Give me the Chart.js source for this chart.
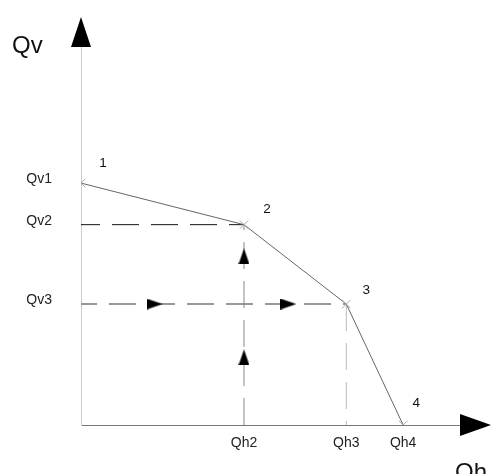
<!DOCTYPE html>
<html>
<head>
<meta charset="utf-8">
<script src="https://cdn.jsdelivr.net/npm/chart.js@4/dist/chart.umd.min.js"></script>
<style>
  html, body { margin: 0; padding: 0; background: #fff; }
  canvas { display: block; }
</style>
</head>
<body>
<canvas id="qchart" width="491" height="474"></canvas>
<script>
// axis tick labels and their positions on the axes
const qhLabels = ['Qh2', 'Qh3', 'Qh4'];
const qhValues = [4.3, 7.0, 8.5];
const qvLabels = ['Qv1', 'Qv2', 'Qv3'];
const qvValues = [6.4, 5.3, 3.2];

// the broken line 1-2-3-4
const pointNames = ['1', '2', '3', '4'];
const curveQh = [0, 4.3, 7.0, 8.5];
const curveQv = [6.4, 5.3, 3.2, 0];

// arrow heads on the dashed guides
const upArrowQh = [4.3, 4.3];
const upArrowQv = [4.46, 1.79];
const rightArrowQh = [1.94, 5.47];
const rightArrowQv = [3.2, 3.2];

const FONT = 'Liberation Sans, Arial, sans-serif';

function arrowHead(w, h) {
  const c = document.createElement('canvas');
  c.width = w;
  c.height = h;
  const ctx = c.getContext('2d');
  ctx.fillStyle = '#000';
  ctx.beginPath();
  ctx.moveTo(w / 2, 0);
  ctx.lineTo(w, h);
  ctx.lineTo(0, h);
  ctx.closePath();
  ctx.fill();
  return c;
}
const headImg = arrowHead(11, 16);

const pts = (xs, ys) => xs.map((x, i) => ({ x, y: ys[i] }));

const dashed = (data, color, width, offset) => ({
  data,
  borderColor: color,
  borderWidth: width,
  borderDash: [27, 12],
  borderDashOffset: offset,
  pointRadius: 0,
  fill: false,
});

// point numbers next to the curve
const labelOffsets = [[22, -20], [23, -15], [20, -14], [13, -22]];

const decorPlugin = {
  id: 'decor',
  afterDatasetsDraw(chart) {
    const { ctx, chartArea } = chart;
    const { left, right, top, bottom } = chartArea;
    ctx.save();
    ctx.fillStyle = '#000';
    // y axis arrow
    ctx.beginPath();
    ctx.moveTo(left, top - 30);
    ctx.lineTo(left + 10, top);
    ctx.lineTo(left - 10, top);
    ctx.closePath();
    ctx.fill();
    // x axis arrow
    ctx.beginPath();
    ctx.moveTo(right + 31, bottom);
    ctx.lineTo(right, bottom - 11);
    ctx.lineTo(right, bottom + 11);
    ctx.closePath();
    ctx.fill();

    ctx.fillStyle = '#111';
    ctx.font = '24px ' + FONT;
    ctx.textBaseline = 'alphabetic';
    ctx.textAlign = 'left';
    ctx.fillText('Qv', 12, 53);
    ctx.fillText('Qh', 455, 480);

    ctx.font = '13.5px ' + FONT;
    ctx.textAlign = 'center';
    ctx.textBaseline = 'middle';
    const meta = chart.getDatasetMeta(0);
    meta.data.forEach((el, i) => {
      const [dx, dy] = labelOffsets[i];
      ctx.fillText(pointNames[i], el.x + dx, el.y + dy);
    });
    ctx.restore();
  },
};

new Chart(document.getElementById('qchart'), {
  type: 'line',
  data: {
    datasets: [
      {
        data: pts(curveQh, curveQv),
        borderColor: '#666',
        borderWidth: 1,
        pointStyle: 'crossRot',
        pointRadius: 6,
        pointBorderColor: '#aaa',
        pointBorderWidth: 1,
        fill: false,
      },
      {
        data: pts(upArrowQh, upArrowQv),
        showLine: false,
        pointStyle: headImg,
        pointRotation: 0,
      },
      {
        data: pts(rightArrowQh, rightArrowQv),
        showLine: false,
        pointStyle: headImg,
        pointRotation: 90,
      },
      dashed(pts([0, qhValues[0]], [qvValues[1], qvValues[1]]), '#111', 1, 8),
      dashed(pts([0, qhValues[1]], [qvValues[2], qvValues[2]]), '#777', 1.6, 11),
      dashed(pts([qhValues[0], qhValues[0]], [0, qvValues[1]]), '#888', 1, 0),
      dashed(pts([qhValues[1], qhValues[1]], [qvValues[2], 0]), '#bbb', 1, 0),
    ],
  },
  options: {
    responsive: false,
    devicePixelRatio: 1,
    animation: false,
    layout: { padding: { top: 47, right: 31, left: 0, bottom: 0 } },
    plugins: {
      legend: { display: false },
      tooltip: { enabled: false },
    },
    scales: {
      x: {
        type: 'linear',
        min: 0,
        max: 10,
        grid: { display: false, drawTicks: false },
        border: { display: true, color: '#777', width: 1 },
        afterFit: (s) => { s.height = 49; },
        afterBuildTicks: (s) => { s.ticks = qhValues.map((v) => ({ value: v })); },
        ticks: {
          autoSkip: false,
          maxRotation: 0,
          padding: 10,
          color: '#222',
          font: { family: FONT, size: 14 },
          callback: (v) => qhLabels[qhValues.indexOf(v)],
        },
      },
      y: {
        type: 'linear',
        min: 0,
        max: 10,
        grid: { display: false, drawTicks: false },
        border: { display: true, color: '#ccc', width: 1 },
        afterFit: (s) => { s.width = 81; },
        afterBuildTicks: (s) => { s.ticks = qvValues.map((v) => ({ value: v })); },
        ticks: {
          autoSkip: false,
          padding: 29,
          labelOffset: -4,
          color: '#222',
          font: { family: FONT, size: 14 },
          callback: (v) => qvLabels[qvValues.indexOf(v)],
        },
      },
    },
  },
  plugins: [decorPlugin],
});
</script>
</body>
</html>
